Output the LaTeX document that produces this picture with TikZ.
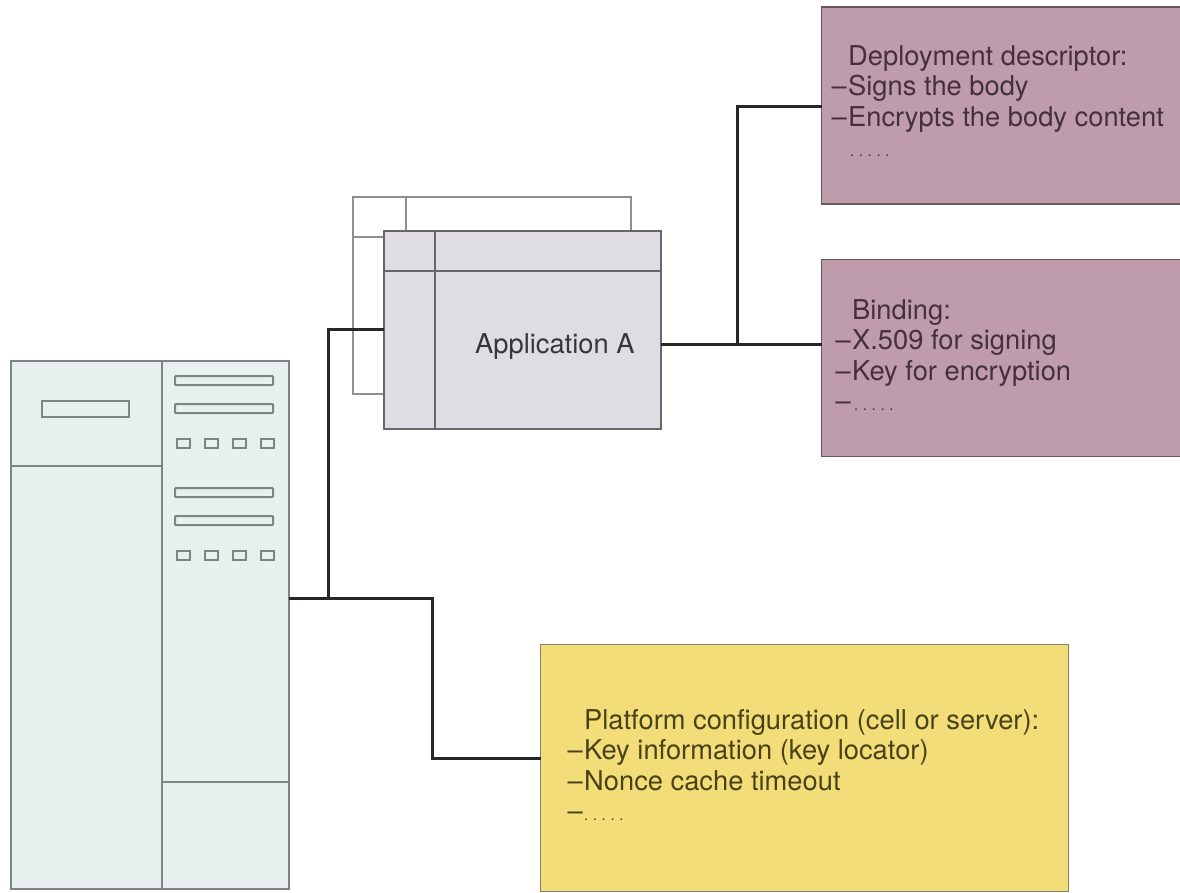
\documentclass[tikz,border=0pt]{standalone}
\usepackage{fontspec}
\setmainfont{TeX Gyre Heros}
\definecolor{srvfill}{HTML}{E8F0EF}
\definecolor{srvline}{HTML}{7E8484}
\definecolor{appfill}{HTML}{DFDDE3}
\definecolor{appline}{HTML}{66666B}
\definecolor{backline}{HTML}{8F8F8F}
\definecolor{roseF}{HTML}{BF9CAC}
\definecolor{roseL}{HTML}{6A5560}
\definecolor{yelF}{HTML}{F2DD78}
\definecolor{yelL}{HTML}{85826A}
\definecolor{txtG}{HTML}{38353C}
\definecolor{txtR}{HTML}{45303C}
\definecolor{txtY}{HTML}{4A4118}
\tikzset{
  x=1pt,y=-1pt,
  srv/.style={draw=srvline,line width=2pt,fill=srvfill},
  srvin/.style={draw=srvline,line width=2pt},
  slot/.style={draw=srvline,line width=2pt,fill=srvfill,rounded corners=0.8pt},
  backp/.style={draw=backline,line width=1.8pt},
  appbox/.style={draw=appline,line width=1.8pt,fill=appfill,inner sep=0pt,outer sep=0pt,anchor=north west},
  appin/.style={draw=appline,line width=1.8pt},
  rosebox/.style={draw=roseL,line width=1.8pt,fill=roseF,inner sep=0pt,outer sep=0pt,anchor=north west,minimum width=360pt,minimum height=197pt},
  yelbox/.style={draw=yelL,line width=1.8pt,fill=yelF,inner sep=0pt,outer sep=0pt,anchor=north west},
  conn/.style={draw=black!85,line width=3pt,line cap=butt,line join=miter},
  lbl/.style={font=\fontsize{27.3}{30.5}\selectfont,align=left,inner sep=0pt,anchor=north west},
}
\newcommand{\dd}{\llap{–\kern1.5pt}}
\newcommand{\dts}{{\fontsize{15}{15}\selectfont.\kern4.6pt.\kern4.6pt.\kern4.6pt.\kern4.6pt.}}
\begin{document}
\begin{tikzpicture}
\useasboundingbox (0,0) rectangle (1180,892);
% server
\path[srv] (11,361) rectangle (289,889);
\path[srvin] (162,361) -- (162,889);
\path[srvin] (11,466) -- (162,466);
\path[srvin] (162,782) -- (289,782);
\path[srvin] (42,401) rectangle (129,417);
\foreach \y in {376,404,488,516} {\path[slot] (175,\y) rectangle (273,\y+9);}
\foreach \y in {439,551} {\foreach \x in {177,205,233,261} {\path[srvin] (\x,\y) rectangle +(13,9);}}
% application stack
\path[backp] (353,197) rectangle (631,394);
\path[backp] (406,197) -- (406,232);
\path[backp] (353,237) -- (384,237);
\node[appbox,minimum width=277pt,minimum height=198pt] (app) at (384,231) {};
\path[appin] (384,271) -- (661,271);
\path[appin] (435,231) -- (435,429);
\node[lbl,text=txtG,anchor=base west] (appname) at (475,353) {Application A};
% boxes
\node[rosebox] (dd) at (821.5,7) {};
\node[rosebox] (bd) at (821.5,259.5) {};
\node[yelbox,minimum width=528pt,minimum height=247pt] (pc) at (540.5,644.5) {};
\node[lbl,text=txtR] (ddt) at (848,45) {Deployment descriptor:\\\dd Signs the body\\\dd Encrypts the body content\\\kern2pt\dts};
\node[lbl,text=txtR] (bdt) at (852,299) {Binding:\\\dd X.509 for signing\\\dd Key for encryption\\\dd\kern2pt\dts};
\node[lbl,text=txtY] (pct) at (584,709) {Platform configuration (cell or server):\\\dd Key information (key locator)\\\dd Nonce cache timeout\\\dd\dts};
% connectors
\coordinate (srvout) at (289,598);
\coordinate (j1) at (328,598);
\coordinate (j2) at (737,344);
\draw[conn] (srvout) -- (432,598) -- (432,758) -- (pc.west |- 0,758);
\draw[conn] (j1) -- (328,329) -- (app.west |- 0,329);
\draw[conn] (app.east |- 0,344) -- (bd.west |- 0,344);
\draw[conn] (j2) -- (737,106) -- (dd.west |- 0,106);
\end{tikzpicture}
\end{document}
